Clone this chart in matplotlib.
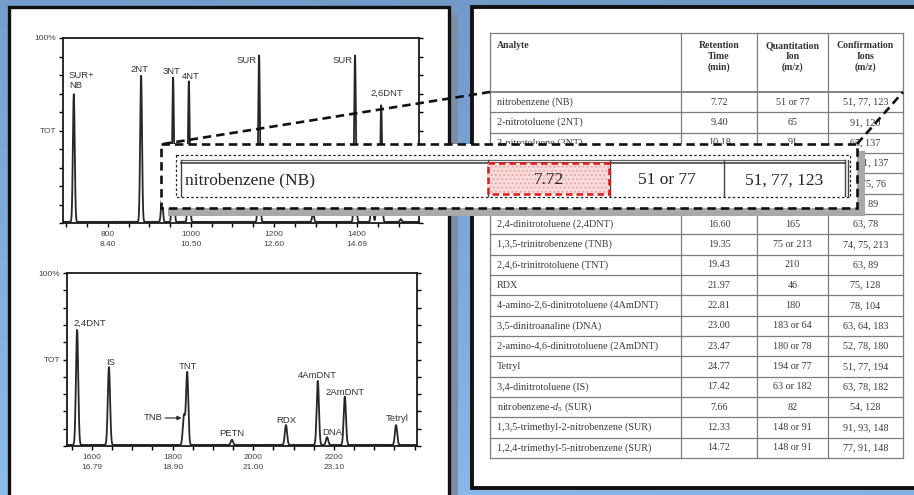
import numpy as np
import matplotlib
matplotlib.use("Agg")
import matplotlib.pyplot as plt
from matplotlib.patches import Rectangle

plt.rcParams["mathtext.fontset"] = "custom"
plt.rcParams["mathtext.rm"] = "Liberation Serif"
plt.rcParams["mathtext.it"] = "Liberation Serif:italic"

W, H, DPI = 914, 495, 100
SANS = ["Liberation Sans", "DejaVu Sans"]
SERIF = ["Liberation Serif", "DejaVu Serif"]

# ---------------- chromatogram data ----------------
top_scans = [718, 880, 930, 957, 995, 1164, 1294, 1395, 1436, 1448, 1458, 1505]
top_heights = [69, 79, 12, 78, 76, 90, 5, 90, 22, 18, 63, 1.5]
top_ticks = [800, 1000, 1200, 1400]
top_times = ["8.40", "10.50", "12.60", "14.69"]
top_names = ["SUR+\nNB", "2NT", "3NT", "4NT", "SUR", "SUR", "2,6DNT"]

bot_scans = [1563, 1642, 1828, 1836, 1947, 2081, 2160, 2183, 2227, 2354]
bot_heights = [66.5, 45, 17, 42, 3, 11.5, 37, 4.5, 28, 11.5]
bot_ticks = [1600, 1800, 2000, 2200]
bot_times = ["16.79", "18.90", "21.00", "23.10"]
bot_names = ["2,4DNT", "IS", "TNB", "TNT", "PETN", "RDX", "4AmDNT", "DNA", "2AmDNT", "Tetryl"]

# ---------------- table data ----------------
headers = ["Analyte", "Retention\nTime\n(min)", "Quantitation\nIon\n(m/z)", "Confirmation\nIons\n(m/z)"]
analytes = [
    "nitrobenzene (NB)", "2-nitrotoluene (2NT)", "3-nitrotoluene (3NT)",
    "4-nitrotoluene (4NT)", "1,3-dinitrobenzene (DNB)", "2,6-dinitrotoluene (2,6DNT)",
    "2,4-dinitrotoluene (2,4DNT)", "1,3,5-trinitrobenzene (TNB)", "2,4,6-trinitrotoluene (TNT)",
    "RDX", "4-amino-2,6-dinitrotoluene (4AmDNT)", "3,5-dinitroanaline (DNA)",
    "2-amino-4,6-dinitrotoluene (2AmDNT)", "Tetryl", "3,4-dinitrotoluene (IS)",
    r"nitrobenzene-$\mathit{d}_5$ (SUR)", "1,3,5-trimethyl-2-nitrobenzene (SUR)",
    "1,2,4-trimethyl-5-nitrobenzene (SUR)",
]
ret_times = ["7.72", "9.40", "10.18", "10.40", "14.97", "15.26", "16.60", "19.35", "19.43",
             "21.97", "22.81", "23.00", "23.47", "24.77", "17.42", "7.66", "12.33", "14.72"]
quant_ions = ["51 or 77", "65", "91", "91", "168", "165", "165", "75 or 213", "210", "46",
              "180", "183 or 64", "180 or 78", "194 or 77", "63 or 182", "82", "148 or 91",
              "148 or 91"]
confirm_ions = ["51, 77, 123", "91, 120", "65, 137", "65, 91, 137", "50, 75, 76", "63, 89",
                "63, 78", "74, 75, 213", "63, 89", "75, 128", "78, 104", "63, 64, 183",
                "52, 78, 180", "51, 77, 194", "63, 78, 182", "54, 128", "91, 93, 148",
                "77, 91, 148"]

fig = plt.figure(figsize=(W / DPI, H / DPI), dpi=DPI)


def px_axes(x0, y0, x1, y1, **kw):
    return fig.add_axes([x0 / W, 1 - y1 / H, (x1 - x0) / W, (y1 - y0) / H], **kw)


# ---------------- background and panels ----------------
bg = px_axes(0, 0, W, H, zorder=0)
bg.set_xlim(0, W)
bg.set_ylim(H, 0)
bg.axis("off")
top_c = np.array([0x6e, 0x95, 0xc4]) / 255
bot_c = np.array([0x8c, 0xbb, 0xee]) / 255
yy, xx = np.mgrid[0:1:200j, 0:1:200j]
t = np.clip(0.75 * yy + 0.25 * (1 - xx), 0, 1)[..., None]
bg.imshow(top_c + (bot_c - top_c) * t, extent=[0, W, H, 0], aspect="auto", zorder=0)
bg.add_patch(Rectangle((449, 14), 9, 500, fc="#7d8ea8", ec="none", zorder=1))
bg.add_patch(Rectangle((9, 7), 440, 520, fc="white", ec="#111111", lw=2.4, zorder=2))
bg.add_patch(Rectangle((472, 7), 470, 481, fc="white", ec="#111111", lw=2.8, zorder=2))


# ---------------- chromatograms ----------------
def chromatogram(ax, scans, heights, width, xlim, ticks, times):
    x = np.linspace(xlim[0], xlim[1], 6000)
    y = np.full_like(x, 0.6)
    for s, h in zip(scans, heights):
        y = y + h * np.exp(-0.5 * ((x - s) / width) ** 2)
    ax.plot(x, y, color="#262626", lw=1.3)
    ax.set_xlim(*xlim)
    ax.set_ylim(0, 100)
    ax.set_xticks(ticks)
    ax.set_xticklabels([f"{a}\n{b}" for a, b in zip(ticks, times)],
                       family=SANS, fontsize=6, color="#444444", linespacing=1.45)
    ax.set_xticks(np.arange(np.ceil(xlim[0] / 50) * 50, xlim[1], 50), minor=True)
    ax.set_yticks(np.arange(0, 101, 10))
    ax.set_yticklabels(["100%" if v == 100 else "TOT" if v == 50 else "" for v in range(0, 101, 10)],
                       family=SANS, fontsize=6, color="#444444")
    ax.tick_params(axis="y", which="both", left=True, right=True, direction="out",
                   length=3, width=1.0, pad=2)
    ax.tick_params(axis="x", which="both", direction="out", length=3, width=1.0, pad=3)
    for sp in ax.spines.values():
        sp.set_linewidth(1.3)
        sp.set_color("#1a1a1a")


ax1 = px_axes(63, 38, 419, 223, zorder=1)
chromatogram(ax1, top_scans, top_heights, 2.2, (692, 1549), top_ticks, top_times)
lab = dict(family=SANS, fontsize=6.8, color="#333333")
ax1.text(706, 82, top_names[0], ha="left", va="top", linespacing=1.05, **lab)
ax1.text(877, 80.5, top_names[1], ha="center", va="bottom", **lab)
ax1.text(954, 79.5, top_names[2], ha="center", va="bottom", **lab)
ax1.text(1000, 77, top_names[3], ha="center", va="bottom", **lab)
ax1.text(1135, 88, top_names[4], ha="center", va="center", **lab)
ax1.text(1366, 88, top_names[5], ha="center", va="center", **lab)
ax1.text(1472, 70, top_names[6], ha="center", va="center", **lab)

ax2 = px_axes(67, 273, 417, 446, zorder=1)
chromatogram(ax2, bot_scans, bot_heights, 2.8, (1538, 2406), bot_ticks, bot_times)
ax2.text(1595, 71, bot_names[0], ha="center", va="center", **lab)
ax2.text(1647, 48, bot_names[1], ha="center", va="center", **lab)
ax2.annotate(bot_names[2], xy=(1822, 16.2), xytext=(1751, 16.2), ha="center", va="center",
             arrowprops=dict(arrowstyle="-|>", color="#222222", lw=0.8, mutation_scale=6,
                             shrinkA=0, shrinkB=0), **lab)
ax2.text(1838, 45.7, bot_names[3], ha="center", va="center", **lab)
ax2.text(1947, 7.5, bot_names[4], ha="center", va="center", **lab)
ax2.text(2083, 14.5, bot_names[5], ha="center", va="center", **lab)
ax2.text(2160, 41, bot_names[6], ha="center", va="center", **lab)
ax2.text(2195, 8, bot_names[7], ha="center", va="center", **lab)
ax2.text(2227, 31, bot_names[8], ha="center", va="center", **lab)
ax2.text(2356, 16, bot_names[9], ha="center", va="center", **lab)

# ---------------- overlay: table, callout, leaders ----------------
ov = px_axes(0, 0, W, H, zorder=3)
ov.set_xlim(0, W)
ov.set_ylim(H, 0)
ov.axis("off")
ov.patch.set_alpha(0)

# callout extent (pixels)
cb_x0, cb_y0, cb_x1, cb_y1 = 161, 144, 857, 208

col_x = [490, 681, 757, 828, 903]
t_top, h_bot = 33, 92
row_h = 20.33
n = len(analytes)
t_bot = h_bot + row_h * n
grid = "#7c7c7c"
for cx in col_x:
    ov.plot([cx, cx], [t_top, t_bot], color=grid, lw=0.9, zorder=1)
ov.plot([col_x[0], col_x[-1]], [t_top, t_top], color=grid, lw=0.9, zorder=1)
ov.plot([col_x[0], col_x[-1]], [h_bot, h_bot], color=grid, lw=1.3, zorder=1)
for i in range(1, n + 1):
    yb = h_bot + row_h * i
    ov.plot([col_x[0], col_x[-1]], [yb, yb], color=grid, lw=0.9, zorder=1)

hdr = dict(family=SERIF, fontsize=7, fontweight="bold", color="#333333", linespacing=1.25)
ov.text(497, 41, headers[0], ha="left", va="top", **hdr)
for j in range(1, 4):
    ov.text((col_x[j] + col_x[j + 1]) / 2, 41, headers[j], ha="center", va="top", **hdr)

body = dict(family=SERIF, fontsize=7.3, color="#3a3a3a")
centers = [(col_x[j] + col_x[j + 1]) / 2 for j in range(1, 4)]
for i in range(n):
    yc = h_bot + row_h * (i + 0.5)
    # cells whose row lies entirely behind the callout are covered; only the
    # right-most column pokes out past the callout edge
    covered = (yc - row_h / 2) >= cb_y0 - 1 and (yc + row_h / 2) <= cb_y1 + 8
    if not covered:
        ov.text(497, yc, analytes[i], ha="left", va="center", **body)
        ov.text(centers[0], yc, ret_times[i], ha="center", va="center", **body)
        ov.text(centers[1], yc, quant_ions[i], ha="center", va="center", **body)
    ov.text(centers[2], yc, confirm_ions[i], ha="center", va="center", **body)

# callout box magnifying the first table row
ov.add_patch(Rectangle((cb_x0 + 7, cb_y0 + 7), cb_x1 - cb_x0 + 1, cb_y1 - cb_y0 + 1,
                       fc="#a9a9a9", ec="none", zorder=5))
ov.add_patch(Rectangle((cb_x0, cb_y0), cb_x1 - cb_x0, cb_y1 - cb_y0, fc="white", ec="none", zorder=6))
ov.add_patch(Rectangle((cb_x0, cb_y0), cb_x1 - cb_x0, cb_y1 - cb_y0, fill=False, ec="#111111",
                       lw=1.9, ls=(0, (3.2, 1.9)), zorder=9))
ov.add_patch(Rectangle((176, 155), 674, 42, fill=False, ec="#222222", lw=0.9,
                       ls=(0, (2, 1.8)), zorder=9))
s = 1.607
cx_big = [181 + (c - col_x[0]) * s for c in col_x]
r_top, r_bot = 163, 163 + row_h * s
ov.plot([cx_big[0], cx_big[-1]], [160, 160], color="#666666", lw=0.9, zorder=7)
ov.plot([cx_big[0], cx_big[-1]], [r_top, r_top], color="#555555", lw=1.3, zorder=7)
for c in cx_big:
    ov.plot([c, c], [160, r_bot], color="#444444", lw=1.0, zorder=7)
ov.plot([cx_big[-1] + 3, cx_big[-1] + 3], [160, r_bot], color="#444444", lw=1.0, zorder=7)
ov.add_patch(Rectangle((cx_big[1], r_top), cx_big[2] - cx_big[1] - 1, r_bot - r_top - 1.5,
                       fc="#f8dcdc", ec="#eeaaaa", lw=0, hatch="....", zorder=7))
ov.add_patch(Rectangle((cx_big[1], r_top), cx_big[2] - cx_big[1] - 1, r_bot - r_top - 1.5,
                       fill=False, ec="#e01818", lw=1.8, ls=(0, (2.6, 1.6)), zorder=8))
big = dict(family=SERIF, fontsize=12.5, color="#222222", va="center", zorder=9)
yc_big = (r_top + r_bot) / 2 + 1
ov.text(185, yc_big, analytes[0], ha="left", **big)
ov.text((cx_big[1] + cx_big[2]) / 2, yc_big, ret_times[0], ha="center", **big)
ov.text((cx_big[2] + cx_big[3]) / 2, yc_big, quant_ions[0], ha="center", **big)
ov.text((cx_big[3] + cx_big[4]) / 2, yc_big, confirm_ions[0], ha="center", **big)

# leader lines from the callout to the source row
lead = dict(color="#111111", lw=1.9, ls=(0, (3.2, 1.9)), zorder=10)
ov.plot([cb_x0 + 2, col_x[0]], [cb_y0, h_bot], **lead)
ov.plot([cb_x1, col_x[-1]], [cb_y0, h_bot], **lead)

fig.savefig("out.png", dpi=DPI)
